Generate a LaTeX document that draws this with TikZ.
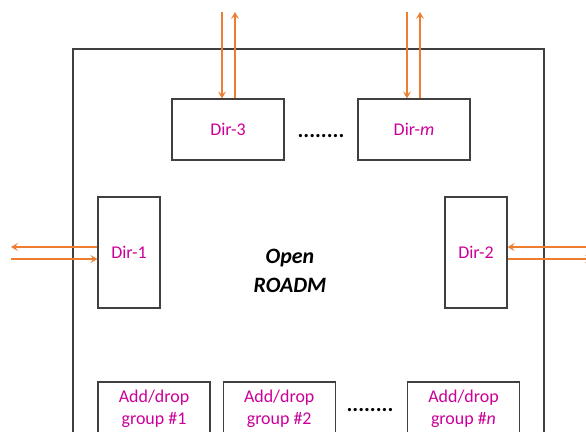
\documentclass[tikz,border=0pt]{standalone}
\usepackage{fontspec}
\setmainfont{Carlito}
\usepackage{tikz}
\usetikzlibrary{arrows.meta,positioning,calc}
\definecolor{roadmmagenta}{RGB}{204,0,153}
\definecolor{roadmorange}{RGB}{237,125,49}
\definecolor{roadmgrey}{RGB}{64,64,64}

\begin{document}
\begin{tikzpicture}[
    x=1bp, y=-1bp,
    frame/.style={rectangle, draw=roadmgrey, line width=1.2bp, minimum width=471bp, minimum height=402bp, inner sep=0pt},
    dirbox/.style={rectangle, draw=roadmgrey, line width=1.2bp, fill=white, text=roadmmagenta, font=\fontsize{18}{22}\selectfont, inner sep=0pt},
    hdir/.style={dirbox, minimum width=112bp, minimum height=61bp},
    vdir/.style={dirbox, minimum width=62bp, minimum height=111bp},
    adbox/.style={dirbox, minimum width=112bp, minimum height=53bp, align=center},
    dots/.style={font=\fontsize{22}{24}\selectfont\bfseries, anchor=base, inner sep=0pt},
    arrow/.style={-{Stealth[length=7bp,width=8bp,inset=3bp]}, line width=1.3bp, roadmorange}
]
\clip (0,0) rectangle (586,431);
\useasboundingbox (0,0) rectangle (586,431);

\node[frame] (roadm) at (308.5,250) {};
\node[font=\fontsize{22}{29}\selectfont\bfseries\itshape, align=center] (title) at (290,271) {Open\\ROADM};

\node[hdir] (d3) at (228,129.5) {Dir-3};
\node[hdir] (dm) at (414,129.5) {Dir-\textit{m}};
\node[vdir] (d1) at (129,252.5) {Dir-1};
\node[vdir] (d2) at (476,252.5) {Dir-2};

\node[adbox] (a1) at (154,408.5) {Add/drop\\group \#1};
\node[adbox, right=12bp of a1] (a2) {Add/drop\\group \#2};
\node[adbox] (an) at (463.5,408.5) {Add/drop\\group \#\textit{n}};

\node[dots] (dtop) at (321,137) {........};
\node[dots] (dbot) at (370,411) {........};

% degree ports
\coordinate (d3a) at (222,12);
\coordinate (d3b) at (235,12);
\coordinate (dma) at (407,12);
\coordinate (dmb) at (420,12);
\coordinate (d1a) at (11,247);
\coordinate (d1b) at (11,259);
\coordinate (d2a) at (596,247);
\coordinate (d2b) at (592,259);

\draw[arrow] (d3a) -- (d3a |- d3.north);
\draw[arrow] (d3b |- d3.north) -- (d3b);
\draw[arrow] (dma) -- (dma |- dm.north);
\draw[arrow] (dmb |- dm.north) -- (dmb);
\draw[arrow] (d1a -| d1.west) -- (d1a);
\draw[arrow] (d1b) -- (d1b -| d1.west);
\draw[arrow] (d2a) -- (d2a -| d2.east);
\draw[arrow] (d2b -| d2.east) -- (d2b);
\end{tikzpicture}
\end{document}
